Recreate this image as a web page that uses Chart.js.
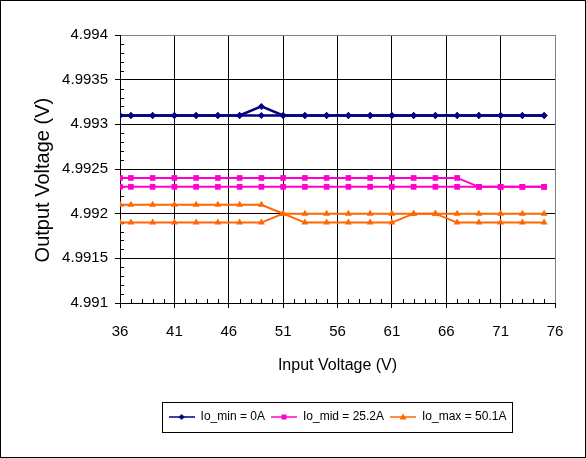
<!DOCTYPE html>
<html>
<head>
<meta charset="utf-8">
<script src="https://cdn.jsdelivr.net/npm/chart.js@4.4.1/dist/chart.umd.min.js"></script>
<style>
  html, body { margin: 0; padding: 0; background: #fff; }
  #wrap { width: 584px; height: 456px; border: 1px solid #000; }
</style>
</head>
<body>
<div id="wrap"><canvas id="chart" width="584" height="456"></canvas></div>
<script>
// input voltage steps (V)
const inputVoltage = [36, 37, 39, 41, 43, 45, 47, 49, 51, 53, 55, 57, 59, 61, 63, 65, 67, 69, 71, 73, 75];

// two sweeps per load
const ioMinUp   = [4.9931, 4.9931, 4.9931, 4.9931, 4.9931, 4.9931, 4.9931, 4.9932, 4.9931, 4.9931, 4.9931, 4.9931, 4.9931, 4.9931, 4.9931, 4.9931, 4.9931, 4.9931, 4.9931, 4.9931, 4.9931];
const ioMinDown = [4.9931, 4.9931, 4.9931, 4.9931, 4.9931, 4.9931, 4.9931, 4.9931, 4.9931, 4.9931, 4.9931, 4.9931, 4.9931, 4.9931, 4.9931, 4.9931, 4.9931, 4.9931, 4.9931, 4.9931, 4.9931];
const ioMidUp   = [4.9924, 4.9924, 4.9924, 4.9924, 4.9924, 4.9924, 4.9924, 4.9924, 4.9924, 4.9924, 4.9924, 4.9924, 4.9924, 4.9924, 4.9924, 4.9924, 4.9924, 4.9923, 4.9923, 4.9923, 4.9923];
const ioMidDown = [4.9923, 4.9923, 4.9923, 4.9923, 4.9923, 4.9923, 4.9923, 4.9923, 4.9923, 4.9923, 4.9923, 4.9923, 4.9923, 4.9923, 4.9923, 4.9923, 4.9923, 4.9923, 4.9923, 4.9923, 4.9923];
const ioMaxUp   = [4.9921, 4.9921, 4.9921, 4.9921, 4.9921, 4.9921, 4.9921, 4.9921, 4.9920, 4.9920, 4.9920, 4.9920, 4.9920, 4.9920, 4.9920, 4.9920, 4.9920, 4.9920, 4.9920, 4.9920, 4.9920];
const ioMaxDown = [4.9919, 4.9919, 4.9919, 4.9919, 4.9919, 4.9919, 4.9919, 4.9919, 4.9920, 4.9919, 4.9919, 4.9919, 4.9919, 4.9919, 4.9920, 4.9920, 4.9919, 4.9919, 4.9919, 4.9919, 4.9919];

const seriesNames = ['Io_min = 0A', 'Io_mid = 25.2A', 'Io_max = 50.1A'];
const xTicks = [36, 41, 46, 51, 56, 61, 66, 71, 76];
const yTicks = [4.991, 4.9915, 4.992, 4.9925, 4.993, 4.9935, 4.994];

Chart.defaults.font.family = "'Liberation Sans', Arial, sans-serif";
Chart.defaults.color = '#000';

const styles = [
  { color: '#000080', marker: 'rectRot', radius: 3.5, width: 2.5 },
  { color: '#FF00CC', marker: 'rect', radius: 4, width: 2 },
  { color: '#FF6600', marker: 'triangle', radius: 4, width: 2 }
];

function toPoints(ys) {
  return ys.map((y, i) => ({ x: inputVoltage[i], y: y }));
}

function makeDataset(label, ys, st) {
  return {
    label: label,
    data: toPoints(ys),
    borderColor: st.color,
    backgroundColor: st.color,
    borderWidth: st.width,
    pointStyle: st.marker,
    pointRadius: st.radius,
    pointBorderWidth: 0,
    pointBackgroundColor: st.color,
    tension: 0
  };
}

// little line+marker picture for the legend
function legendSample(st) {
  const c = document.createElement('canvas');
  c.width = 26; c.height = 10;
  const g = c.getContext('2d');
  g.strokeStyle = st.color;
  g.lineWidth = 1.5;
  g.beginPath(); g.moveTo(0, 5); g.lineTo(26, 5); g.stroke();
  g.fillStyle = st.color;
  g.beginPath();
  if (st.marker === 'rect') g.rect(10.5, 2.5, 5, 5);
  else if (st.marker === 'rectRot') { g.moveTo(13, 2); g.lineTo(16, 5); g.lineTo(13, 8); g.lineTo(10, 5); }
  else { g.moveTo(13, 1.5); g.lineTo(16.5, 7.5); g.lineTo(9.5, 7.5); }
  g.closePath(); g.fill();
  return c;
}

const minorTicks = {
  id: 'minorTicks',
  beforeDatasetsDraw(chart) {
    const { ctx, chartArea, scales: { x, y } } = chart;
    ctx.save();
    ctx.strokeStyle = '#000';
    ctx.lineWidth = 1;
    ctx.beginPath();
    for (let v = 36; v <= 76; v++) {
      if ((v - 36) % 5 === 0) continue;
      const px = Math.round(x.getPixelForValue(v)) + 0.5;
      ctx.moveTo(px, chartArea.bottom);
      ctx.lineTo(px, chartArea.bottom - 4);
    }
    for (let i = 0; i <= 30; i++) {
      if (i % 5 === 0) continue;
      const py = Math.round(y.getPixelForValue(4.991 + i * 0.0001)) + 0.5;
      ctx.moveTo(chartArea.left, py);
      ctx.lineTo(chartArea.left + 4, py);
    }
    ctx.stroke();
    ctx.restore();
  }
};

const legendFrame = {
  id: 'legendFrame',
  afterDraw(chart) {
    const boxes = chart.legend.legendHitBoxes;
    if (!boxes || !boxes.length) return;
    const l = Math.min(...boxes.map(b => b.left));
    const r = Math.max(...boxes.map(b => b.left + b.width));
    const t = Math.min(...boxes.map(b => b.top));
    const b = Math.max(...boxes.map(b => b.top + b.height));
    const ctx = chart.ctx;
    ctx.save();
    ctx.strokeStyle = '#000';
    ctx.lineWidth = 1;
    ctx.strokeRect(Math.round(l - 7) + 0.5, Math.round(t - 9) + 0.5, Math.round(r - l + 12), Math.round(b - t + 18));
    ctx.restore();
  }
};

new Chart(document.getElementById('chart'), {
  type: 'line',
  data: {
    datasets: [
      makeDataset(seriesNames[0], ioMinUp, styles[0]),
      makeDataset('', ioMinDown, styles[0]),
      makeDataset(seriesNames[1], ioMidUp, styles[1]),
      makeDataset('', ioMidDown, styles[1]),
      makeDataset(seriesNames[2], ioMaxUp, styles[2]),
      makeDataset('', ioMaxDown, styles[2])
    ]
  },
  options: {
    responsive: false,
    animation: false,
    devicePixelRatio: 1,
    layout: { padding: { top: 34, right: 30, left: 0, bottom: 24 } },
    plugins: {
      tooltip: { enabled: false },
      legend: {
        position: 'bottom',
        fullSize: false,
        labels: {
          usePointStyle: true,
          pointStyleWidth: 26,
          padding: 6,
          font: { size: 12 },
          generateLabels: () => seriesNames.map((name, i) => ({
            text: name,
            pointStyle: legendSample(styles[i]),
            fillStyle: styles[i].color,
            strokeStyle: styles[i].color,
            lineWidth: 0,
            hidden: false,
            datasetIndex: i * 2
          }))
        }
      }
    },
    scales: {
      x: {
        type: 'linear',
        min: 36,
        max: 76,
        afterBuildTicks: s => { s.ticks = xTicks.map(v => ({ value: v })); },
        afterFit: s => { s.height = 102; },
        grid: {
          color: c => (c.tick && c.tick.value === 76 ? '#808080' : '#000'),
          tickColor: '#000',
          tickLength: 5
        },
        border: { color: '#000', width: 1 },
        ticks: { font: { size: 15 }, padding: 15, maxRotation: 0, autoSkip: false },
        title: { display: true, text: 'Input Voltage (V)', font: { size: 16 }, padding: { top: 30, bottom: 30 } }
      },
      y: {
        min: 4.991,
        max: 4.994,
        afterBuildTicks: s => { s.ticks = yTicks.map(v => ({ value: v })); },
        afterFit: s => { s.width = 119; },
        grid: {
          color: c => (c.tick && Math.abs(c.tick.value - 4.994) < 1e-9 ? '#808080' : '#000'),
          tickColor: '#000',
          tickLength: 5
        },
        border: { color: '#000', width: 1 },
        ticks: { font: { size: 15 }, padding: 7, callback: v => String(+v.toFixed(4)) },
        title: {
          display: true,
          text: 'Output Voltage (V)\u00a0\u00a0\u00a0\u00a0',
          font: { size: 20 },
          padding: { top: 30, bottom: 30 }
        }
      }
    }
  },
  plugins: [minorTicks, legendFrame]
});
</script>
</body>
</html>
